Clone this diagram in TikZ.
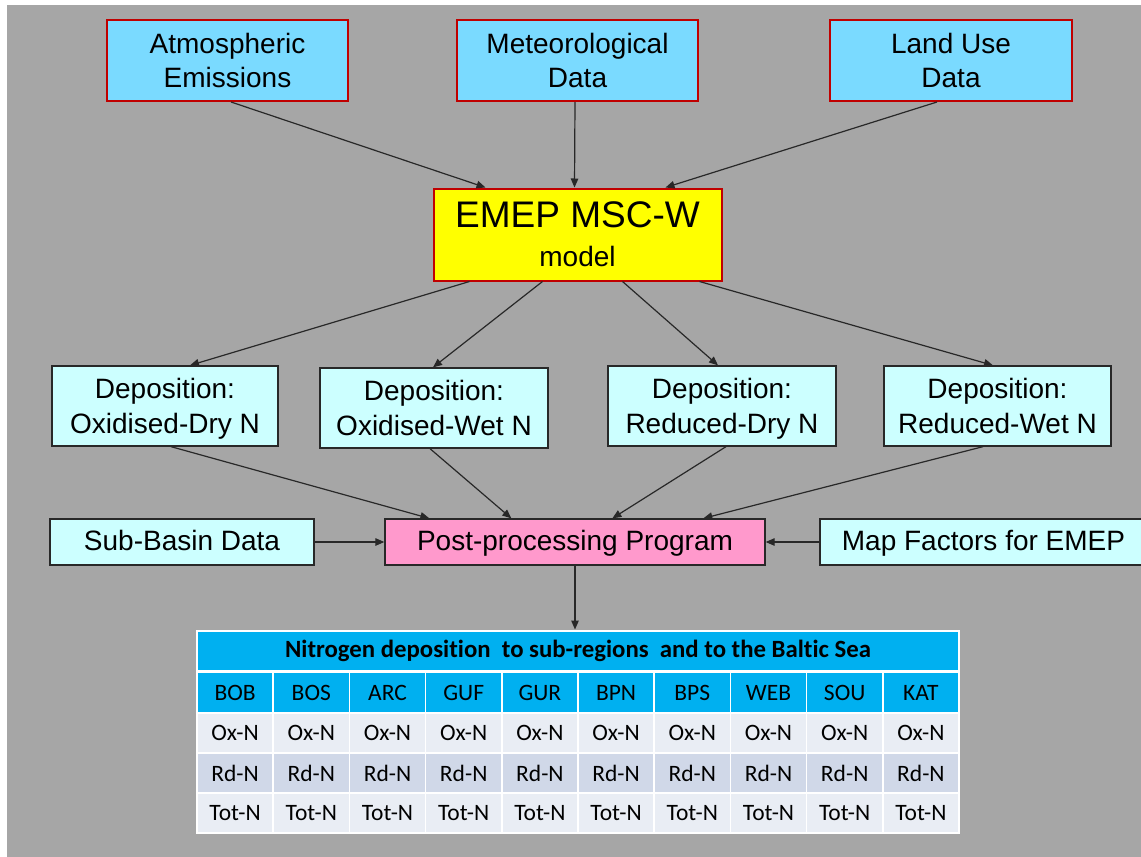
\documentclass[tikz,border=0pt]{standalone}
\usepackage{fontspec}
\setmainfont{Liberation Sans}
\newfontfamily\tabfont[Ligatures=NoCommon]{Carlito}
\usetikzlibrary{arrows.meta,calc}
\definecolor{bgray}{RGB}{166,166,166}
\definecolor{boxred}{RGB}{192,0,0}
\definecolor{skyb}{RGB}{122,218,255}
\definecolor{cyanl}{RGB}{204,255,255}
\definecolor{pinkb}{RGB}{255,153,204}
\definecolor{ylw}{RGB}{255,255,0}
\definecolor{hdr}{RGB}{0,176,240}
\definecolor{rowa}{RGB}{233,237,244}
\definecolor{rowb}{RGB}{208,216,232}
\definecolor{linec}{RGB}{40,40,40}
\begin{document}
\begin{tikzpicture}[x=1pt,y=-1pt,
  topbox/.style={draw=boxred, line width=2pt, fill=skyb, minimum width=241pt, minimum height=81pt, align=center, inner sep=0pt, font=\fontsize{28}{34}\selectfont},
  emepbox/.style={draw=boxred, line width=2pt, fill=ylw, minimum width=288pt, minimum height=92pt, align=center, inner sep=0pt, font=\fontsize{28}{39}\selectfont, text depth=0pt},
  depbox/.style={draw=linec, line width=1.3pt, fill=cyanl, minimum width=227pt, minimum height=80pt, align=center, inner sep=0pt, font=\fontsize{28}{35}\selectfont, text depth=0pt},
  flatbox/.style={draw=linec, line width=1.3pt, minimum height=46pt, inner sep=0pt, text height=21pt, text depth=5pt, font=\fontsize{28}{34}\selectfont},
  tcell/.style={draw=white, line width=1.5pt, minimum width=76.2pt, minimum height=40pt, inner sep=0pt, font=\tabfont\fontsize{23.5}{28}\selectfont},
  arr/.style={draw=linec, line width=1.2pt, -{Triangle[length=9pt,width=7.5pt]}}
]
\useasboundingbox (0,0) rectangle (1141,857);
\fill[bgray] (7,5) rectangle (1141,857);

% top inputs
\node[topbox] (atm) at (227.5,60.5) {Atmospheric\\Emissions};
\node[topbox] (met) at (577.5,60.5) {Meteorological\\Data};
\node[topbox, minimum width=242pt] (land) at (951,60.5) {Land Use\\Data};

% model
\node[emepbox] (emep) at (577.5,234.5) {{\fontsize{37}{39}\selectfont EMEP MSC-W}\\model};

% depositions
\node[depbox, minimum width=226pt] (d1) at (165,406) {Deposition:\\Oxidised-Dry N};
\node[depbox, minimum width=228pt] (d2) at (434,408) {Deposition:\\Oxidised-Wet N};
\node[depbox, minimum width=228pt] (d3) at (722,406) {Deposition:\\Reduced-Dry N};
\node[depbox] (d4) at (997.5,406) {Deposition:\\Reduced-Wet N};

% post-processing row
\node[flatbox, fill=cyanl, minimum width=264pt] (sub) at (182,542) {Sub-Basin Data};
\node[flatbox, fill=pinkb, minimum width=380pt] (post) at (575,542) {Post-processing Program};
\node[flatbox, fill=cyanl, minimum width=327pt] (map) at (983.5,542) {Map Factors for EMEP};

% table
\node[tcell, fill=hdr, minimum width=762pt, line width=2pt, font=\tabfont\bfseries\fontsize{24.8}{28}\selectfont] (thead) at (578,650.5) {Nitrogen deposition~ to sub-regions~ and to the Baltic Sea};
\foreach \c [count=\i from 0] in {BOB,BOS,ARC,GUF,GUR,BPN,BPS,WEB,SOU,KAT} {
  \node[tcell, fill=hdr] (code\i) at ({197+76.2*(\i+0.5)},692.5) {\c};
  \node[tcell, fill=rowa] (ox\i) at ({197+76.2*(\i+0.5)},733) {Ox-N};
  \node[tcell, fill=rowb] (rd\i) at ({197+76.2*(\i+0.5)},773) {Rd-N};
  \node[tcell, fill=rowa] (tot\i) at ({197+76.2*(\i+0.5)},813) {Tot-N};
}

% connectors: inputs to model
\draw[arr] ($(atm.south)+(3.5,0)$) -- ($(emep.north west)+(53,0)$);
\draw[arr] ($(met.south)+(-2.5,0)$) -- ($(emep.north west)+(142,0)$);
\draw[arr] ($(land.south)+(-14,0)$) -- ($(emep.north west)+(233,0)$);

% model to depositions
\draw[arr] ($(emep.south west)+(37,0)$) -- ($(d1.north)+(25,0)$);
\draw[arr] ($(emep.south west)+(110,0)$) -- ($(d2.north)+(-1,0)$);
\draw[arr] ($(emep.south west)+(190,0)$) -- ($(d3.north)+(-4,0)$);
\draw[arr] ($(emep.south west)+(267,0)$) -- ($(d4.north)+(-4.5,0)$);

% depositions to post-processing
\draw[arr] ($(d1.south)+(6,0)$) -- ($(post.north west)+(45,0)$);
\draw[arr] ($(d2.south)+(-4,0)$) -- ($(post.north west)+(127,0)$);
\draw[arr] ($(d3.south)+(4,0)$) -- ($(post.north west)+(228,0)$);
\draw[arr] ($(d4.south)+(-14.5,0)$) -- ($(post.north west)+(319,0)$);

% side inputs
\draw[arr] (sub.east) -- (post.west);
\draw[arr] (map.west) -- (post.east);

% output
\draw[arr] (post.south) -- (post.south |- thead.north);
\end{tikzpicture}
\end{document}
